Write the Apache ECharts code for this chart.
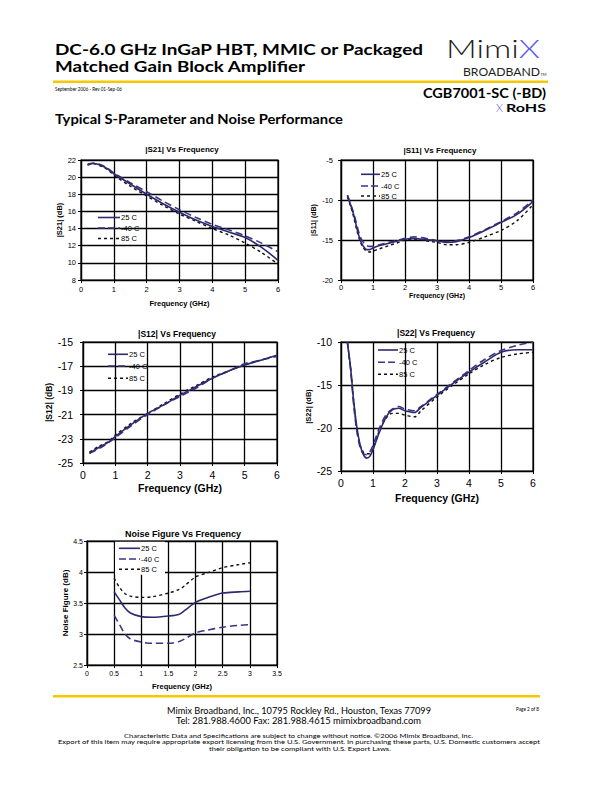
<!DOCTYPE html>
<html><head><meta charset="utf-8">
<script src="https://cdn.jsdelivr.net/npm/echarts@6/dist/echarts.min.js"></script>
<style>
html,body{margin:0;padding:0;background:#fff;}
#wrap{position:relative;width:612px;height:792px;overflow:hidden;}
#chart{position:absolute;left:0;top:0;width:612px;height:792px;}
#page{position:absolute;left:0;top:0;}
</style></head><body>
<div id="wrap">
<div id="chart"></div>
<svg id="page" width="612" height="792" xmlns="http://www.w3.org/2000/svg" style="pointer-events:none">
  <g font-family="Lato, 'Open Sans', sans-serif" fill="#000">
    <text x="55" y="54.5" font-size="15" font-weight="700" textLength="368" lengthAdjust="spacingAndGlyphs">DC-6.0 GHz InGaP HBT, MMIC or Packaged</text>
    <text x="55" y="72" font-size="15" font-weight="700" textLength="250" lengthAdjust="spacingAndGlyphs">Matched Gain Block Amplifier</text>
    <rect x="53" y="80.5" width="495" height="2.5" fill="#f5c800"/>
    <text x="55" y="90.7" font-size="6.5" textLength="67" lengthAdjust="spacingAndGlyphs">September 2006 - Rev 01-Sep-06</text>
    <text x="55" y="124.3" font-size="14" font-weight="700" textLength="288" lengthAdjust="spacingAndGlyphs">Typical S-Parameter and Noise Performance</text>
    <text x="446" y="57.7" font-size="25" font-weight="300" fill="#222" textLength="94" lengthAdjust="spacingAndGlyphs">Mimi<tspan fill="#5b5bea">X</tspan></text>
    <text x="463" y="75.7" font-size="10.5" fill="#222" textLength="77" lengthAdjust="spacingAndGlyphs">BROADBAND</text>
    <text x="540.5" y="75.7" font-size="4" fill="#222">TM</text>
    <text x="546" y="98" font-size="12.5" font-weight="700" text-anchor="end" textLength="123" lengthAdjust="spacingAndGlyphs">CGB7001-SC (-BD)</text>
    <text x="496" y="112.2" font-size="11" font-weight="300" fill="#5b5bea">X</text>
    <text x="506" y="112.2" font-size="11" font-weight="700" textLength="40" lengthAdjust="spacingAndGlyphs">RoHS</text>
    <rect x="53" y="695" width="487" height="2.5" fill="#f5c800"/>
    <text x="167" y="713.5" font-size="9.5" textLength="264" lengthAdjust="spacingAndGlyphs">Mimix Broadband, Inc., 10795 Rockley Rd., Houston, Texas 77099</text>
    <text x="176" y="724" font-size="9.5" textLength="245" lengthAdjust="spacingAndGlyphs">Tel: 281.988.4600  Fax: 281.988.4615  mimixbroadband.com</text>
    <text x="516" y="711" font-size="6" textLength="23" lengthAdjust="spacingAndGlyphs">Page 2 of 8</text>
    <text x="124" y="737.5" font-size="6.4" textLength="349" lengthAdjust="spacingAndGlyphs">Characteristic Data and Specifications are subject to change without notice. ©2006 Mimix Broadband, Inc.</text>
    <text x="58" y="744" font-size="6.4" textLength="482" lengthAdjust="spacingAndGlyphs">Export of this item may require appropriate export licensing from the U.S. Government. In purchasing these parts, U.S. Domestic customers accept</text>
    <text x="209" y="750.5" font-size="6.4" textLength="182" lengthAdjust="spacingAndGlyphs">their obligation to be compliant with U.S. Export Laws.</text>
  </g>
</svg>
</div>
<script>
// ---------- data ----------
const seriesNames = ['25 C', '-40 C', '85 C'];

const s21Freq = [0.2,0.4,0.6,0.8,1.0,1.5,2.0,2.5,3.0,3.5,4.0,4.5,5.0,5.5,6.0];
const s21_25C  = [21.45,21.6,21.4,21.0,20.4,19.2,18.0,16.9,15.9,15.0,14.25,13.6,12.95,11.8,10.3];
const s21_m40C = [21.5,21.65,21.45,21.05,20.5,19.35,18.3,17.2,16.2,15.3,14.5,13.85,13.15,12.3,11.3];
const s21_85C  = [21.4,21.55,21.3,20.9,20.25,18.95,17.8,16.7,15.7,14.85,14.0,13.25,12.3,11.2,9.85];

const s11Freq = [0.2,0.3,0.4,0.5,0.6,0.7,0.8,0.9,1.0,1.2,1.5,1.8,2.0,2.3,2.5,2.8,3.0,3.3,3.6,4.0,4.5,5.0,5.5,6.0];
const s11_25C  = [-9.4,-10.6,-11.9,-13.6,-15.0,-15.8,-16.2,-16.2,-16.0,-15.7,-15.4,-15.1,-14.9,-14.8,-14.9,-15.0,-15.1,-15.3,-15.2,-14.7,-13.8,-12.8,-11.8,-10.2];
const s11_m40C = [-9.4,-10.5,-11.7,-13.2,-14.6,-15.3,-15.7,-15.8,-15.8,-15.6,-15.3,-15.0,-14.8,-14.6,-14.7,-14.9,-15.1,-15.2,-15.1,-14.6,-13.7,-12.7,-11.6,-10.0];
const s11_85C  = [-9.6,-10.8,-12.2,-13.9,-15.2,-16.0,-16.4,-16.5,-16.4,-16.1,-15.7,-15.3,-15.0,-14.9,-15.0,-15.2,-15.3,-15.6,-15.6,-15.3,-14.6,-13.8,-12.6,-10.6];

const s12Freq = [0.2,0.5,0.8,1.0,1.5,2.0,2.5,3.0,3.5,4.0,4.5,5.0,5.5,6.0];
const s12_25C  = [-24.2,-23.7,-23.25,-22.8,-21.8,-20.9,-20.2,-19.4,-18.7,-18.0,-17.4,-16.9,-16.5,-16.1];
const s12_m40C = [-24.2,-23.8,-23.3,-22.9,-21.9,-21.0,-20.2,-19.5,-18.8,-18.0,-17.4,-16.8,-16.5,-16.2];
const s12_85C  = [-24.1,-23.6,-23.2,-22.7,-21.7,-20.9,-20.1,-19.3,-18.6,-17.9,-17.4,-16.9,-16.5,-16.1];

const s22Freq = [0.2,0.3,0.4,0.5,0.6,0.7,0.8,0.9,1.0,1.1,1.2,1.4,1.6,1.8,2.0,2.3,2.5,3.0,3.5,4.0,4.5,5.0,5.5,6.0];
const s22_25C  = [-10,-13,-17,-20,-22,-23.1,-23.5,-23.3,-22.5,-21.5,-20.5,-18.8,-17.9,-17.7,-18.0,-18.2,-17.6,-16.2,-14.8,-13.5,-12.3,-11.2,-10.9,-10.9];
const s22_m40C = [-10,-13.2,-17.5,-20.5,-22.3,-23.0,-23.1,-22.8,-22.0,-21.0,-20.0,-18.5,-17.8,-17.5,-17.8,-18.0,-17.5,-16.1,-14.7,-13.3,-12.0,-11.0,-10.4,-10.0];
const s22_85C  = [-10.2,-13,-17,-20.3,-22.0,-22.8,-23.0,-23.0,-22.4,-21.3,-20.3,-18.9,-18.3,-18.3,-18.5,-18.7,-18.0,-16.4,-15.0,-13.7,-12.6,-11.8,-11.4,-11.2];

const nfFreq = [0.5,0.6,0.7,0.8,1.0,1.2,1.5,1.7,1.8,2.0,2.2,2.5,2.8,3.0];
const nf_25C  = [3.68,3.55,3.42,3.34,3.28,3.27,3.29,3.32,3.38,3.51,3.58,3.66,3.68,3.69];
const nf_m40C = [3.30,3.15,3.00,2.92,2.87,2.85,2.85,2.88,2.92,3.02,3.06,3.11,3.14,3.15];
const nf_85C  = [3.90,3.75,3.65,3.61,3.59,3.60,3.66,3.72,3.78,3.92,3.98,4.07,4.12,4.15];

// ---------- layout ----------
const FONT = '"Liberation Sans", Arial, sans-serif';
const lineStyles = [
  {color:'#2d2a6e', width:1.6, type:'solid'},
  {color:'#3b3585', width:1.6, type:[7,4]},
  {color:'#111111', width:1.4, type:[3,3]}
];
const legendDash = [null, [7,3], [3,3]];

const panels = [
  {title:'|S21| Vs Frequency', tx:182, ty:149, tfs:8,
   grid:{left:81, top:160, width:197, height:120},
   x:{min:0,max:6,interval:1,fs:7.5,margin:5,name:'Frequency (GHz)',nfs:7.5,ngap:19},
   y:{min:8,max:22,interval:2,fs:7.5,margin:5,name:'|S21| (dB)',nfs:7.5,ngap:18},
   legend:{x:98, w:22, rows:[217.5,228,238.5], bg:null},
   freq:s21Freq, vals:[s21_25C,s21_m40C,s21_85C]},
  {title:'|S11| Vs Frequency', tx:440, ty:150, tfs:8,
   grid:{left:341, top:160, width:192, height:120},
   x:{min:0,max:6,interval:1,fs:7.5,margin:3,name:'Frequency (GHz)',nfs:7,ngap:11},
   y:{min:-20,max:-5,interval:5,fs:7.5,margin:8,name:'|S11| (dB)',nfs:7,ngap:24},
   legend:{x:361, w:19, rows:[174.3,186,196], bg:null},
   freq:s11Freq, vals:[s11_25C,s11_m40C,s11_85C]},
  {title:'|S12| Vs Frequency', tx:177, ty:334, tfs:8.5,
   grid:{left:83, top:342, width:194, height:121},
   x:{min:0,max:6,interval:1,fs:10.5,margin:6,name:'Frequency (GHz)',nfs:10.5,ngap:19},
   y:{min:-25,max:-15,interval:2,fs:10.5,margin:10,name:'|S12| (dB)',nfs:8.5,ngap:21},
   legend:{x:108, w:20, rows:[354.3,366,378.3], bg:null},
   freq:s12Freq, vals:[s12_25C,s12_m40C,s12_85C]},
  {title:'|S22| Vs Frequency', tx:436, ty:333, tfs:8.5,
   grid:{left:341, top:342, width:192, height:129},
   x:{min:0,max:6,interval:1,fs:10.5,margin:6,name:'Frequency (GHz)',nfs:10.5,ngap:21},
   y:{min:-25,max:-10,interval:5,fs:10.5,margin:9,name:'|S22| (dB)',nfs:7.5,ngap:26},
   legend:{x:378, w:20, rows:[350,362.3,374.3], bg:null},
   freq:s22Freq, vals:[s22_25C,s22_m40C,s22_85C]},
  {title:'Noise Figure Vs Frequency', tx:183, ty:534, tfs:9,
   grid:{left:87, top:541, width:190, height:124},
   x:{min:0,max:3.5,interval:0.5,fs:7,margin:5,name:'Frequency (GHz)',nfs:7.5,ngap:17},
   y:{min:2.5,max:4.5,interval:0.5,fs:7,margin:4,name:'Noise Figure (dB)',nfs:8,ngap:16},
   legend:{x:119, w:21, rows:[548.3,559,569.3], bg:{x:115, y:541.8, w:50, h:33}},
   freq:nfFreq, vals:[nf_25C,nf_m40C,nf_85C]}
];

const grid = [], xAxis = [], yAxis = [], series = [], graphic = [];
panels.forEach((p, i) => {
  grid.push(Object.assign({show:true, borderColor:'#000', borderWidth:1.2, backgroundColor:'transparent'}, p.grid));
  const axisCommon = (a) => ({
    gridIndex:i, type:'value', min:a.min, max:a.max, interval:a.interval,
    axisLine:{show:true, onZero:false, lineStyle:{color:'#000', width:1.2}},
    axisTick:{show:true, inside:false, length:3, lineStyle:{color:'#000', width:1}},
    splitLine:{show:true, lineStyle:{color:'#000', width:1.3}},
    axisLabel:{fontFamily:FONT, fontSize:a.fs, color:'#000', margin:a.margin, showMinLabel:true, showMaxLabel:true},
    name:a.name, nameLocation:'middle', nameGap:a.ngap,
    nameTextStyle:{fontFamily:FONT, fontSize:a.nfs, fontWeight:'bold', color:'#000'}
  });
  xAxis.push(axisCommon(p.x));
  yAxis.push(axisCommon(p.y));
  p.vals.forEach((v, k) => {
    series.push({
      name: seriesNames[k], type:'line', xAxisIndex:i, yAxisIndex:i,
      data: p.freq.map((f, j) => [f, v[j]]),
      symbol:'none', smooth:0.3, silent:true, animation:false,
      lineStyle: lineStyles[k], itemStyle:{color: lineStyles[k].color}, z: 3 - k
    });
  });
  // chart title
  graphic.push({type:'text', x:p.tx, y:p.ty, z:20,
    style:{text:p.title, font:'bold ' + p.tfs + 'px ' + FONT, fill:'#000', textAlign:'center', textVerticalAlign:'middle'}});
  // legend box
  const L = p.legend;
  if (L.bg) {
    graphic.push({type:'rect', z:15, shape:{x:L.bg.x, y:L.bg.y, width:L.bg.w, height:L.bg.h}, style:{fill:'#fff'}});
  }
  seriesNames.forEach((nm, k) => {
    const y = L.rows[k];
    graphic.push({type:'line', z:16, shape:{x1:L.x, y1:y, x2:L.x + L.w, y2:y},
      style:{stroke:lineStyles[k].color, lineWidth:lineStyles[k].width, lineDash:legendDash[k] || null}});
    graphic.push({type:'text', z:16, x:L.x + L.w + 1, y:y,
      style:{text:nm, font:'7.5px ' + FONT, fill:'#000', textAlign:'left', textVerticalAlign:'middle'}});
  });
});

const chart = echarts.init(document.getElementById('chart'), null, {renderer:'svg'});
chart.setOption({
  animation:false, backgroundColor:'#fff',
  grid, xAxis, yAxis, series, graphic
});
</script>
</body></html>
